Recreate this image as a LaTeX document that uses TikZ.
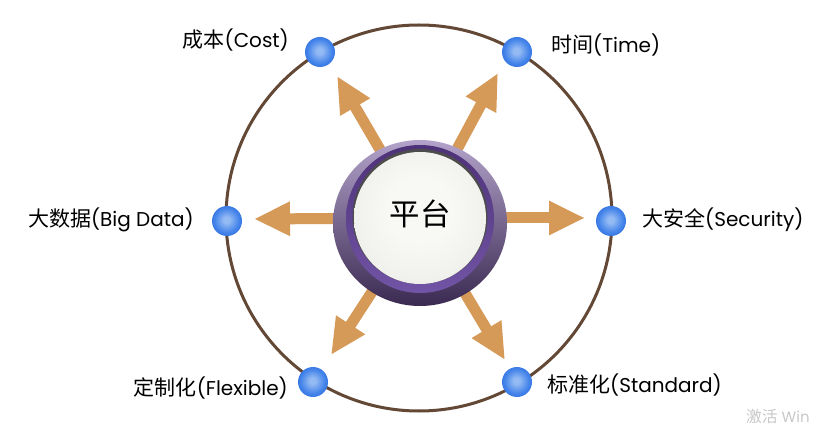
\documentclass[tikz,border=0pt]{standalone}
\usepackage{fontspec}
\setmainfont{Poppins}
\newfontfamily\cjk[Scale=1.05]{Noto Sans CJK SC}
\usetikzlibrary{arrows.meta}
\definecolor{arrcol}{HTML}{D69A58}
\definecolor{ringcol}{HTML}{634836}
\definecolor{lavlight}{HTML}{B3A3CB}
\definecolor{lavdark}{HTML}{3A2950}
\definecolor{banddark}{HTML}{4E3278}
\definecolor{bandlight}{HTML}{7254A6}
\definecolor{discA}{HTML}{F8F8F5}
\definecolor{discB}{HTML}{F0F0EC}
\definecolor{discC}{HTML}{DDDDD6}
\definecolor{discD}{HTML}{C4C4BC}
\definecolor{ballA}{HTML}{94BAF3}
\definecolor{ballB}{HTML}{4585EA}
\definecolor{ballC}{HTML}{2563DA}
\pgfdeclareradialshading{discshade}{\pgfpoint{0bp}{4bp}}{color(0bp)=(discA); color(12bp)=(discA); color(26bp)=(discB); color(33bp)=(discC); color(36bp)=(discD); color(50bp)=(discD)}
\pgfdeclareradialshading{ballshade}{\pgfpoint{-1bp}{2bp}}{color(0bp)=(ballA); color(5bp)=(ballA); color(20bp)=(ballB); color(33bp)=(ballC); color(50bp)=(ballC)}
\tikzset{
  bigarrow/.style={draw=arrcol, line width=11pt, -{Triangle[width=32pt,length=36pt,fill=arrcol]}},
  dot/.style={circle, minimum size=30pt, inner sep=0pt, shading=ballshade},
  lab/.style={inner sep=0pt, font=\fontsize{20pt}{23pt}\selectfont, text=black},
}
\begin{document}
\begin{tikzpicture}[x=1pt,y=-1pt]
\useasboundingbox (0,0) rectangle (834,427);
\coordinate (o) at (420,218);
\coordinate (oc) at (419,218);
% outer circle
\draw[ringcol, line width=3pt] (oc) circle[radius=193];
% arrow tips
\coordinate (ttl) at (337,76);
\coordinate (ttr) at (498,73);
\coordinate (tl) at (254,219);
\coordinate (tr) at (585,218);
\coordinate (tbl) at (331,355);
\coordinate (tbr) at (505,360);
\foreach \t in {ttl,ttr,tl,tr,tbl,tbr} \draw[bigarrow] (o) -- (\t);
% central button
\shade[shading angle=45, top color=lavlight, bottom color=lavdark] (420,223) ellipse[x radius=87, y radius=83];
\shade[shading angle=45, top color=banddark, bottom color=bandlight] (420,219) circle[radius=74];
\fill[black!70] (420,216.5) circle[radius=67.5];
\shade[shading=discshade] (420,218) circle[radius=66];
\node[circle, minimum size=170pt, inner sep=0pt, font=\cjk\fontsize{29pt}{33pt}\selectfont] (c) at (420,214) {平台};
% dots
\node[dot] (d1) at (320,52) {};
\node[dot] (d2) at (517,52) {};
\node[dot] (d3) at (227,221) {};
\node[dot] (d4) at (611,221) {};
\node[dot] (d5) at (313,382) {};
\node[dot] (d6) at (517,382) {};
% labels
\node[lab, anchor=east] (l1) at (289,40) {{\cjk 成本}(Cost)};
\node[lab, anchor=west] (l2) at (551,45) {{\cjk 时间}(Time)};
\node[lab, anchor=east] (l3) at (194,220) {{\cjk 大数据}(Big Data)};
\node[lab, anchor=west] (l4) at (642,220) {{\cjk 大安全}(Security)};
\node[lab, anchor=east] (l5) at (288,388) {{\cjk 定制化}(Flexible)};
\node[lab, anchor=west] (l6) at (547,385) {{\cjk 标准化}(Standard)};
% watermark
\node[anchor=south west, inner sep=0pt, text=black!22, font=\fontsize{15pt}{17pt}\selectfont] (wm) at (746,424) {{\cjk 激活} Win};
\end{tikzpicture}
\end{document}
